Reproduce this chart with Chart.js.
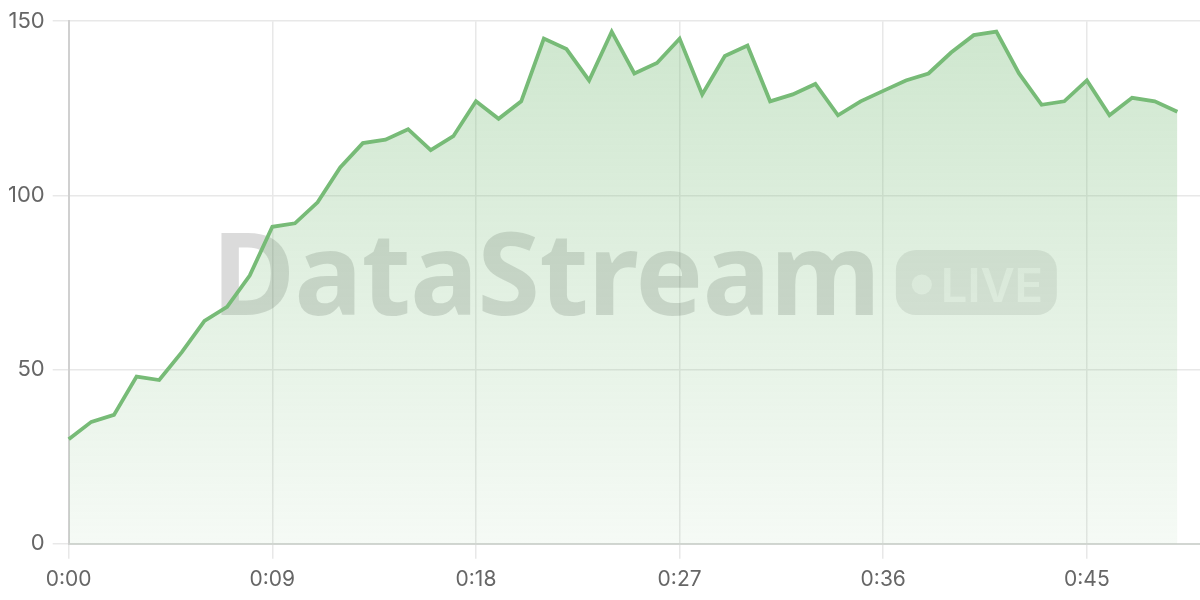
<!DOCTYPE html>
<html>
<head>
<meta charset="utf-8">
<script src="https://cdn.jsdelivr.net/npm/chart.js@4.4.1/dist/chart.umd.min.js"></script>
<style>
  html, body { margin: 0; padding: 0; background: #fff; }
  #wrap { width: 1200px; height: 600px; }
</style>
</head>
<body>
<div id="wrap"><canvas id="chart" width="1200" height="600"></canvas></div>
<script>
// seconds 0..50 on the axis, samples for 0..49
const seconds = [];
for (let s = 0; s <= 50; s++) seconds.push(s);
const timeLabels = seconds.map(s => '0:' + String(s).padStart(2, '0'));

const throughput = [
  30, 35, 37, 48, 47, 55, 64, 68, 77, 91,
  92, 98, 108, 115, 116, 119, 113, 117, 127, 122,
  127, 145, 142, 133, 147, 135, 138, 145, 129, 140,
  143, 127, 129, 132, 123, 127, 130, 133, 135, 141,
  146, 147, 135, 126, 127, 133, 123, 128, 127, 124
];

const yTicks = [0, 50, 100, 150];

const lineGreen = '#77bb77';

// watermark behind the line
const watermark = {
  id: 'watermark',
  beforeDatasetsDraw(chart) {
    const { ctx, chartArea } = chart;
    const cx = (chartArea.left + chartArea.right) / 2;
    const cy = (chartArea.top + chartArea.bottom) / 2;
    ctx.save();
    ctx.font = 'bold 114px "Noto Sans"';
    ctx.letterSpacing = '-1px';
    const textW = ctx.measureText('DataStream').width;
    const gap = 16, pillW = 161, pillH = 65;
    let x = cx - (textW + gap + pillW) / 2;
    ctx.fillStyle = 'rgba(0,0,0,0.14)';
    ctx.textBaseline = 'alphabetic';
    ctx.fillText('DataStream', x, cy + 32);

    const px = x + textW + gap, py = cy - pillH / 2;
    ctx.fillStyle = 'rgba(0,0,0,0.09)';
    ctx.beginPath();
    ctx.roundRect(px, py, pillW, pillH, 20);
    ctx.fill();

    ctx.fillStyle = 'rgba(255,255,255,0.6)';
    ctx.beginPath();
    ctx.arc(px + 26, cy + 2, 10, 0, Math.PI * 2);
    ctx.fill();
    ctx.letterSpacing = '0px';
    ctx.font = '600 47px Inter';
    ctx.fillText('LIVE', px + 45, cy + 19);
    ctx.restore();
  }
};

const ctx = document.getElementById('chart').getContext('2d');
new Chart(ctx, {
  type: 'line',
  data: {
    labels: timeLabels,
    datasets: [{
      data: throughput,
      borderColor: lineGreen,
      borderWidth: 3.8,
      pointRadius: 0,
      tension: 0,
      fill: 'origin',
      backgroundColor: (c) => {
        const area = c.chart.chartArea;
        if (!area) return 'rgba(119,187,119,0.2)';
        const g = c.chart.ctx.createLinearGradient(0, area.top, 0, area.bottom);
        g.addColorStop(0, 'rgba(119,187,119,0.36)');
        g.addColorStop(1, 'rgba(119,187,119,0.07)');
        return g;
      }
    }]
  },
  options: {
    responsive: false,
    animation: false,
    layout: { padding: { left: 0, top: 9, right: 0, bottom: 0 } },
    plugins: {
      legend: { display: false },
      tooltip: { enabled: false }
    },
    scales: {
      x: {
        type: 'category',
        offset: false,
        grid: { color: '#e8e8e8', lineWidth: 1.5, tickLength: 15 },
        border: { color: '#d2d6d2', width: 2 },
        ticks: {
          autoSkip: false,
          maxRotation: 0,
          padding: 8,
          color: '#666',
          font: { family: 'Inter', size: 21 },
          callback: (v, i) => (i % 9 === 0 ? timeLabels[i] : null)
        }
      },
      y: {
        min: yTicks[0],
        max: yTicks[yTicks.length - 1],
        afterBuildTicks: (axis) => { axis.ticks = yTicks.map(v => ({ value: v })); },
        grid: { color: '#e8e8e8', lineWidth: 1.5, tickLength: 16 },
        border: { color: '#d0d0d0', width: 2 },
        ticks: {
          padding: 8,
          color: '#666',
          font: { family: 'Inter', size: 22 }
        }
      }
    }
  },
  plugins: [watermark]
});
</script>
</body>
</html>
